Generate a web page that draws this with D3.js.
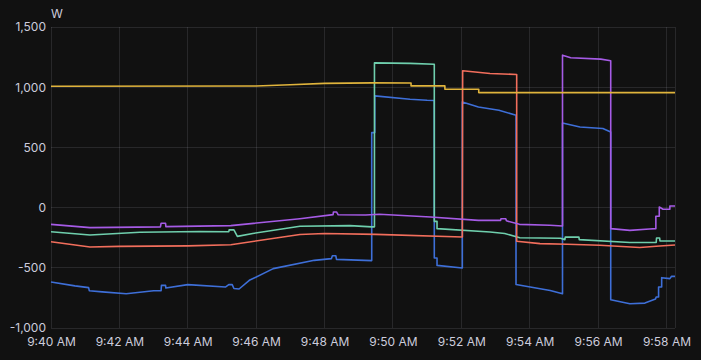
<!DOCTYPE html>
<html>
<head>
<meta charset="utf-8">
<script src="https://cdn.jsdelivr.net/npm/d3@7"></script>
<style>
  body { margin: 0; background: #111111; }
  svg { display: block; }
  text { font-family: Inter, "Open Sans", sans-serif; font-size: 12px; fill: #ccccdc; }
</style>
</head>
<body>
<div id="chart"></div>
<script>
// time is minutes after 9:40 AM, value is watts
const START = new Date(2024, 0, 1, 9, 40, 0);
const END_MIN = 18.25;
const Y_TICKS = [-1000, -500, 0, 500, 1000, 1500];

const blueSeries = [[0,-618],[0.7,-650],[1.1,-665],[1.12,-690],[1.5,-700],[2.2,-715],[3,-690],[3.22,-690],[3.23,-646],[3.35,-646],[3.36,-668],[4,-640],[5.1,-660],[5.2,-640],[5.3,-640],[5.35,-672],[5.5,-676],[5.8,-604],[6.5,-507],[7.7,-438],[8.2,-424],[8.23,-400],[8.33,-400],[8.35,-430],[9.38,-440],[9.38,623],[9.47,623],[9.47,928],[10.5,900],[11.0,892],[11.21,890],[11.21,-419],[11.29,-419],[11.29,-480],[12.03,-502],[12.03,878],[12.5,836],[13.1,809],[13.6,767],[13.6,-638],[14.6,-688],[14.96,-715],[14.96,703],[15.47,670],[16.14,657],[16.37,628],[16.37,-765],[16.93,-798],[17.37,-793],[17.68,-760],[17.7,-743],[17.77,-743],[17.77,-660],[17.86,-660],[17.86,-582],[18.1,-590],[18.15,-571],[18.25,-571]];

const greenSeries = [[0,-200],[1.14,-228],[2.6,-205],[4.36,-198],[5.2,-200],[5.21,-185],[5.35,-185],[5.45,-239],[5.9,-215],[7.28,-155],[8.74,-150],[9.38,-160],[9.46,-160],[9.46,1202],[10.5,1198],[11.21,1191],[11.21,-114],[11.29,-114],[11.29,-175],[12.84,-203],[13.27,-215],[13.71,-250],[14.9,-255],[15.03,-266],[15.04,-245],[15.44,-245],[15.45,-266],[16.93,-290],[17.7,-290],[17.71,-252],[17.8,-252],[17.81,-277],[18.25,-277]];

const redSeries = [[0,-283],[1.14,-327],[2,-322],[4,-318],[5.26,-308],[7.28,-224],[8,-215],[9.5,-222],[12.03,-244],[12.04,1136],[12.84,1114],[13.62,1106],[13.62,-280],[14.3,-299],[15.1,-305],[16.05,-313],[17.22,-332],[17.8,-319],[18.25,-310]];

const purpleSeries = [[0,-139],[1.14,-166],[3.2,-160],[3.22,-130],[3.35,-130],[3.36,-158],[5.26,-150],[7.28,-92],[8.25,-58],[8.26,-36],[8.35,-36],[8.4,-60],[9.2,-62],[9.6,-55],[11.1,-78],[12.5,-106],[13.15,-106],[13.16,-92],[13.3,-92],[13.32,-110],[13.7,-139],[14.59,-147],[14.96,-153],[14.96,1266],[15.2,1244],[16.08,1233],[16.37,1219],[16.37,-175],[16.93,-189],[17.5,-178],[17.69,-175],[17.69,-72],[17.79,-72],[17.79,5],[17.9,-14],[18.1,-14],[18.1,13],[18.25,13]];

const yellowSeries = [[0,1008],[6,1010],[7,1020],[8,1032],[9.4,1036],[10.53,1035],[10.53,1011],[11.52,1011],[11.52,983],[12.51,983],[12.51,955],[18.25,955]];

const SERIES = [
  {name: "blue", color: "#3e6fd8", data: blueSeries},
  {name: "green", color: "#6fcfad", data: greenSeries},
  {name: "red", color: "#f26e5c", data: redSeries},
  {name: "purple", color: "#a65be6", data: purpleSeries},
  {name: "yellow", color: "#e0b43c", data: yellowSeries}
];

const width = 701, height = 360;
const margin = {top: 27, right: 26, bottom: 32, left: 51};

const svg = d3.select("#chart").append("svg")
  .attr("width", width)
  .attr("height", height);

const toDate = m => new Date(START.getTime() + m * 60000);

const x = d3.scaleTime()
  .domain([START, toDate(END_MIN)])
  .range([margin.left, width - margin.right]);

const y = d3.scaleLinear()
  .domain([-1000, 1500])
  .range([height - margin.bottom, margin.top]);

const gridColor = "rgba(204,204,220,0.13)";
const xTicks = x.ticks(d3.timeMinute.every(2));

// grid
svg.append("g").selectAll("line.h")
  .data(Y_TICKS).enter().append("line")
    .attr("x1", margin.left).attr("x2", width - margin.right)
    .attr("y1", d => Math.floor(y(d)) + 0.5).attr("y2", d => Math.floor(y(d)) + 0.5)
    .attr("stroke", gridColor);

svg.append("g").selectAll("line.v")
  .data(xTicks.concat([toDate(END_MIN)])).enter().append("line")
    .attr("x1", d => Math.floor(x(d)) + 0.5).attr("x2", d => Math.floor(x(d)) + 0.5)
    .attr("y1", margin.top).attr("y2", height - margin.bottom)
    .attr("stroke", gridColor);

// axes
const yAxis = svg.append("g")
  .attr("transform", "translate(" + (margin.left - 5) + ",0)")
  .call(d3.axisLeft(y).tickValues(Y_TICKS).tickSize(0)
    .tickFormat(d => d3.format(",")(d).replace("\u2212", "-")));
yAxis.select(".domain").remove();
yAxis.selectAll("text").attr("x", 0).attr("dy", "0.32em");

const xAxis = svg.append("g")
  .attr("transform", "translate(0," + (height - margin.bottom) + ")")
  .call(d3.axisBottom(x).tickValues(xTicks).tickSize(0)
    .tickFormat(d3.timeFormat("%-I:%M %p")));
xAxis.select(".domain").remove();
xAxis.selectAll("text").attr("y", 9.5).attr("dy", "0.71em");

svg.append("text")
  .attr("x", 57).attr("y", 18)
  .attr("text-anchor", "middle")
  .text("W");

// lines
const line = d3.line()
  .x(d => x(toDate(d[0])))
  .y(d => y(d[1]));

svg.append("g").selectAll("path")
  .data(SERIES).enter().append("path")
    .attr("d", d => line(d.data))
    .attr("fill", "none")
    .attr("stroke", d => d.color)
    .attr("stroke-width", 1.6)
    .attr("stroke-linejoin", "round");
</script>
</body>
</html>
